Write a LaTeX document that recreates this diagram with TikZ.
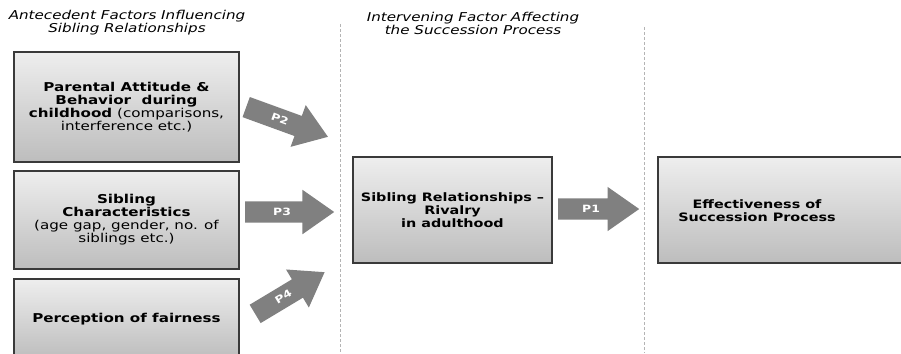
\documentclass[tikz,border=0pt]{standalone}
\usepackage{fontspec}
\setmainfont{DejaVu Sans}[FakeStretch=1.24]
\usetikzlibrary{shapes.arrows,shadows}
\definecolor{boxtop}{HTML}{EEEEEE}
\definecolor{boxbot}{HTML}{BDBDBD}
\definecolor{boxline}{HTML}{3A3A3A}
\definecolor{arrowgray}{HTML}{808080}
\definecolor{sepgray}{HTML}{B4B4B4}
\tikzset{
  factor/.style={draw=boxline, line width=1.1pt, top color=boxtop, bottom color=boxbot,
    drop shadow={shadow xshift=1pt, shadow yshift=-1pt, fill=black!35},
    align=center, inner sep=0pt, font=\fontsize{11.6}{13}\selectfont},
  antefactor/.style={factor, minimum width=225pt, font=\fontsize{12.2}{13}\selectfont},
  parrow/.style={single arrow, fill=arrowgray, draw=none, minimum height=#1,
    single arrow head extend=11.5pt, single arrow tip angle=70, anchor=tail,
    inner xsep=2pt, inner ysep=0pt, text height=14pt, text depth=7pt,
    text=white, font=\fontsize{10}{11}\selectfont\bfseries},
  colhead/.style={align=center, font=\fontsize{12.2}{13}\selectfont\itshape},
  sep/.style={draw=sepgray, line width=0.8pt, dash pattern=on 3pt off 2pt}
}
\begin{document}
\begin{tikzpicture}[x=1pt, y=-1pt]
    \useasboundingbox (0,0) rectangle (901,353);

    \node[colhead](H1) at (127, 23) {Antecedent Factors Influencing\\Sibling Relationships};
    \node[colhead](H2) at (473, 23) {Intervening Factor Affecting\\the Succession Process};

    \coordinate (S1_top) at (340, 24);
    \coordinate (S1_bot) at (340, 353);
    \coordinate (S2_top) at (644, 27);
    \coordinate (S2_bot) at (644, 353);
    \draw[sep] (S1_top) -- (S1_bot);
    \draw[sep] (S2_top) -- (S2_bot);

    % antecedents
    \node[antefactor, minimum height=110pt](Parent) at (126.5, 107)
      {\textbf{Parental Attitude \&}\\\textbf{Behavior\ \ during}\\\textbf{childhood} (comparisons,\\interference etc.)};
    \node[antefactor, minimum height=98pt](SibChar) at (126.5, 220)
      {\textbf{Sibling}\\\textbf{Characteristics}\\(age gap, gender, no. of\\siblings etc.)};
    \node[antefactor, minimum height=80pt](Fair) at (126.5, 319)
      {\textbf{Perception of fairness}};

    % intervening and outcome
    \node[factor, minimum width=199pt, minimum height=106pt](Rivalry) at (452.5, 210)
      {\textbf{Sibling Relationships –}\\\textbf{Rivalry}\\\textbf{in adulthood}};
    \node[factor, minimum width=260pt, minimum height=106pt](Succ) at (788, 210) {};
    \node[align=center, font=\fontsize{11.6}{13}\selectfont\bfseries](SuccTxt) at (757, 211)
      {Effectiveness of\\Succession Process};

    % propositions
    \node[parrow=87pt, rotate=-20](P2) at (246, 107) {P2};
    \node[parrow=89pt](P3) at (245, 212) {P3};
    \node[parrow=81pt, rotate=31](P4) at (255, 314) {P4};
    \node[parrow=81pt](P1) at (558, 209) {P1};
\end{tikzpicture}
\end{document}
